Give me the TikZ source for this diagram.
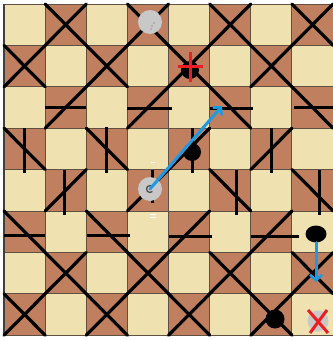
\documentclass[tikz,border=0pt]{standalone}
\usetikzlibrary{arrows.meta,shapes.geometric}
\definecolor{lightsq}{RGB}{240,226,176}
\definecolor{darksq}{RGB}{192,128,96}
\definecolor{gridln}{RGB}{95,80,65}
\definecolor{blueline}{RGB}{28,155,226}
\definecolor{redmark}{RGB}{236,30,36}
\definecolor{stonegray}{RGB}{200,200,200}
\begin{document}
\begin{tikzpicture}[x=1pt,y=-1pt,
  gridline/.style={gridln,line width=1pt},
  boardline/.style={black,line width=3.2pt,line cap=round},
  barline/.style={black,line width=3pt},
  graystone/.style={circle,fill=stonegray,inner sep=0pt,minimum size=#1},
  blackstone/.style={circle,fill=black,inner sep=0pt,minimum size=#1},
  bluearrow/.style={blueline,line width=3pt,line cap=round,-{Straight Barb[length=5.5pt,width=12pt,line width=2.6pt]}},
  redstroke/.style={redmark,line width=3pt}]
\useasboundingbox[fill=white] (0,0) rectangle (332,340);
\begin{scope}[shift={(4pt,-4pt)},x=41.14pt,y=-41.4pt]
  % squares
  \foreach \r in {0,...,7}{
    \foreach \c in {0,...,7}{
      \pgfmathtruncatemacro\p{mod(\r+\c,2)}
      \ifnum\p=0
        \fill[lightsq] (\c,\r) rectangle ++(1,1);
      \else
        \fill[darksq] (\c,\r) rectangle ++(1,1);
      \fi
    }
  }
  % grid
  \foreach \i in {0,...,8}{
    \draw[gridline] (\i,0) -- (\i,8);
    \draw[gridline] (0,\i) -- (8,\i);
  }
  \draw[black!75,line width=1.2pt] (0,0) -- (0,8);
  % crosses
  \foreach \r/\c in {0/1,0/3,0/5,0/7,1/0,1/2,1/4,1/6,6/1,6/3,6/5,6/7,7/0,7/2,7/4,7/6}{
    \draw[boardline] (\c,\r) -- (\c+1,\r+1) (\c+1,\r) -- (\c,\r+1);
  }
  % slashes
  \foreach \r/\c in {2/1,2/3,3/4,3/6,4/1,4/3,5/4,5/6}{
    \draw[boardline] (\c,\r+1) -- (\c+1,\r);
  }
  % backslashes
  \foreach \r/\c in {2/5,2/7,3/0,3/2,4/5,4/7,5/0,5/2}{
    \draw[boardline] (\c,\r) -- (\c+1,\r+1);
  }
  % horizontal bars
  \draw[barline] (1,2.5) -- (2,2.5);
  \draw[barline] (2.99,2.52) -- (4.08,2.52);
  \draw[barline] (5,2.52) -- (6.05,2.52);
  \draw[barline] (7.05,2.5) -- (8,2.5);
  \draw[barline] (0,5.6) -- (1,5.6);
  \draw[barline] (2.02,5.6) -- (3.06,5.6);
  \draw[barline] (4.01,5.62) -- (5.06,5.62);
  \draw[barline] (6,5.62) -- (7.17,5.62);
  % vertical bars
  \draw[barline] (0.49,3) -- (0.49,4.08);
  \draw[barline] (2.5,2.98) -- (2.5,4.08);
  \draw[barline] (4.57,3) -- (4.57,4.08);
  \draw[barline] (6.51,3) -- (6.51,4.08);
  \draw[barline] (1.48,4) -- (1.48,5.1);
  \draw[barline] (3.62,4) -- (3.62,4.8);
  \draw[barline] (5.64,4) -- (5.64,5.1);
  \draw[barline] (7.66,4) -- (7.66,5.1);
\end{scope}
% small white marks
\draw[white,line width=1pt] (151,162) -- (155,162);
\draw[white,line width=1pt] (150,214) -- (156,214) (150,217) -- (156,217);
% pieces
\node[graystone=24pt] (g1) at (150,22) {};
\fill[black!60] (152,26) circle (0.7) (151,29) circle (0.6) (154,23) circle (0.6);
\node[blackstone=18pt] (b1) at (190,70) {};
\coordinate (plus) at (190,66);
\draw[redstroke] ([xshift=-12pt]plus) -- ([xshift=13pt]plus);
\draw[redstroke] ([yshift=14pt]plus) -- ([yshift=-16pt]plus);
\node[blackstone=18pt] (b2) at (192,152) {};
\node[graystone=24pt] (g2) at (150,189) {};
\draw[black!70,line width=1.3pt] (g2.center) ++(45:3.5) arc (45:315:3.5);
\coordinate (tip1) at (222,106);
\draw[bluearrow] (g2.center) -- (tip1);
\node[ellipse,fill=black,inner sep=0pt,minimum width=21pt,minimum height=17pt] (e1) at (316,234) {};
\coordinate (tip2) at (316,282);
\draw[bluearrow] (e1.south) -- (tip2);
\node[blackstone=19pt] (b3) at (275,319) {};
\node[graystone=21pt] (g3) at (318,321) {};
\draw[redstroke] ([xshift=-10pt,yshift=11pt]g3.center) -- ([xshift=10pt,yshift=-12pt]g3.center);
\draw[redstroke] ([xshift=9pt,yshift=11pt]g3.center) -- ([xshift=-8pt,yshift=-12pt]g3.center);
\end{tikzpicture}
\end{document}
